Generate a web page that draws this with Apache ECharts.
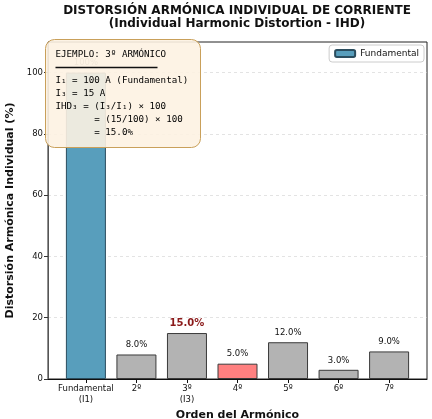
<!DOCTYPE html>
<html>
<head>
<meta charset="utf-8">
<script src="https://cdn.jsdelivr.net/npm/echarts@6/dist/echarts.min.js"></script>
<style>
html,body{margin:0;padding:0;background:#fff;}
#chart{width:432px;height:419px;}
</style>
</head>
<body>
<div id="chart"></div>
<script>
// datos del gráfico
var categorias = ['Fundamental\n(I1)', '2º', '3º\n(I3)', '4º', '5º', '6º', '7º'];
var valores = [100, 8, 15, 5, 12, 3, 9];
var ticksY = [0, 20, 40, 60, 80, 100];
var posX = [0, 1, 2, 3, 4, 5, 6];

var fuente = 'DejaVu Sans';
var colorFund = '#589ebc';
var colorGris = '#b3b3b3';
var colorRojo = '#ff8080';

function colorBarra(i){
	if(i == 0) return colorFund;
	if(i == 3) return colorRojo;
	return colorGris;
}

var datos = new Array();
for(var i = 0; i < valores.length; i++){
	var d = {
		value: [posX[i], valores[i]],
		itemStyle: {color: colorBarra(i), borderColor: i == 0 ? '#2b4d5e' : '#3a3a3a', borderWidth: 1}
	};
	if(i == 2){
		d.label = {color: '#8b1a1a', fontWeight: 'bold', fontSize: 10};
	}
	if(i == 0){
		d.label = {color: '#888', formatter: '100%'};
	}
	datos.push(d);
}

var myChart = echarts.init(document.getElementById('chart'));
var option = {
	animation: false,
	textStyle: {fontFamily: fuente},
	title: {
		text: 'DISTORSIÓN ARMÓNICA INDIVIDUAL DE CORRIENTE\n(Individual Harmonic Distortion - IHD)',
		left: 237, top: 4, textAlign: 'center', padding: 0,
		textStyle: {fontFamily: fuente, fontSize: 12, fontWeight: 'bold', color: '#111', lineHeight: 13}
	},
	legend: {
		data: ['Fundamental'],
		right: 8, top: 45,
		itemWidth: 20, itemHeight: 7,
		padding: [4, 5],
		borderColor: '#ccc', borderWidth: 1, borderRadius: 3,
		backgroundColor: '#fff',
		textStyle: {fontFamily: fuente, fontSize: 9, color: '#111'}
	},
	grid: {
		left: 48, right: 5, top: 42, bottom: 40,
		outerBoundsMode: 'none', containLabel: false,
		show: true, borderColor: '#222', borderWidth: 1, backgroundColor: 'transparent'
	},
	xAxis: {
		type: 'value', min: -0.75, max: 6.75,
		name: 'Orden del Armónico', nameLocation: 'middle', nameGap: 27,
		nameTextStyle: {fontFamily: fuente, fontSize: 11, fontWeight: 'bold', color: '#111'},
		axisLine: {show: true, onZero: false, lineStyle: {color: '#111'}},
		axisTick: {show: true, length: 4, lineStyle: {color: '#111'}, customValues: posX},
		axisLabel: {
			customValues: posX, fontSize: 8.5, color: '#111', lineHeight: 11, margin: 4,
			formatter: function(v){ return categorias[Math.round(v)]; }
		},
		splitLine: {show: false}
	},
	yAxis: {
		type: 'value', min: 0, max: 110, interval: 20,
		name: 'Distorsión Armónica Individual (%)', nameLocation: 'middle', nameGap: 24,
		nameTextStyle: {fontFamily: fuente, fontSize: 11, fontWeight: 'bold', color: '#111'},
		axisLine: {show: true, onZero: false, lineStyle: {color: '#555'}},
		axisTick: {show: true, length: 4, lineStyle: {color: '#333'}, customValues: ticksY},
		axisLabel: {customValues: ticksY, fontSize: 8.5, color: '#111', margin: 5},
		splitLine: {show: true, lineStyle: {color: '#d8d8d8', type: [3, 3], width: 0.7}}
	},
	series: [{
		name: 'Fundamental',
		type: 'bar',
		barWidth: 40,
		itemStyle: {color: colorFund, borderColor: '#2b4d5e', borderWidth: 1},
		label: {
			show: true, position: 'top', distance: 5,
			fontFamily: fuente, fontSize: 8.5, color: '#111',
			formatter: function(p){ return p.value[1].toFixed(1) + '%'; }
		},
		data: datos
	}],
	graphic: [{
		type: 'group', left: 45, top: 39, z: 100,
		children: [{
			type: 'rect', z: 100,
			shape: {x: 0, y: 0, width: 155, height: 108, r: 9},
			style: {fill: 'rgba(253,242,226,0.9)', stroke: '#c9a05a', lineWidth: 1}
		}, {
			type: 'text', x: 10, y: 11, z: 101,
			style: {
				text: 'EJEMPLO: 3º ARMÓNICO',
				font: '9.2px "DejaVu Sans Mono"', fill: '#000'
			}
		}, {
			type: 'line', z: 101,
			shape: {x1: 10, y1: 28, x2: 112, y2: 28},
			style: {stroke: '#111', lineWidth: 1.3}
		}, {
			type: 'text', x: 10, y: 35, z: 101,
			style: {
				text: 'I\u2081 = 100 A (Fundamental)\nI\u2083 = 15 A\nIHD\u2083 = (I\u2083/I\u2081) × 100\n       = (15/100) × 100\n       = 15.0%',
				font: '9.2px "DejaVu Sans Mono"', fill: '#000', lineHeight: 13
			}
		}]
	}]
};
myChart.setOption(option);
</script>
</body>
</html>
